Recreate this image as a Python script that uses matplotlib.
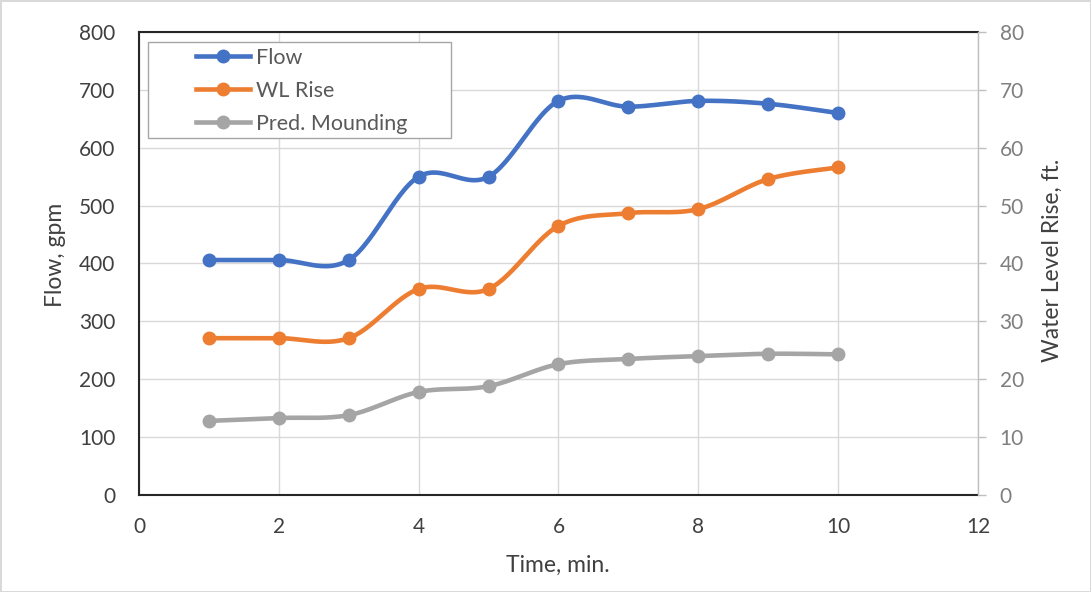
import numpy as np
import matplotlib
matplotlib.use("Agg")
import matplotlib.pyplot as plt
from matplotlib.lines import Line2D
from matplotlib.patches import Rectangle

plt.rcParams['font.family'] = ['Lato', 'DejaVu Sans']

# data
time_min = [1, 2, 3, 4, 5, 6, 7, 8, 9, 10]
flow_gpm = [406, 406, 406, 550, 550, 681, 671, 681, 676, 660]
wl_rise_ft = [27.1, 27.1, 27.1, 35.6, 35.6, 46.5, 48.7, 49.4, 54.6, 56.6]
pred_mound_ft = [12.8, 13.3, 13.8, 17.8, 18.8, 22.6, 23.5, 24.0, 24.4, 24.3]

x_ticks = [0, 2, 4, 6, 8, 10, 12]
left_ticks = [0, 100, 200, 300, 400, 500, 600, 700, 800]
right_ticks = [0, 10, 20, 30, 40, 50, 60, 70, 80]

C_FLOW = '#4472C4'
C_WL = '#ED7D31'
C_PRED = '#A5A5A5'
TXT = '#404040'


def smooth(xs, ys, n=30):
    # Excel-style smoothed line (bezier through points, catmull-rom controls)
    xs = np.asarray(xs, float)
    ys = np.asarray(ys, float)
    px, py = [], []
    for i in range(len(xs) - 1):
        p0 = np.array([xs[max(i - 1, 0)], ys[max(i - 1, 0)]])
        p1 = np.array([xs[i], ys[i]])
        p2 = np.array([xs[i + 1], ys[i + 1]])
        p3 = np.array([xs[min(i + 2, len(xs) - 1)], ys[min(i + 2, len(ys) - 1)]])
        c1 = p1 + (p2 - p0) / 6
        c2 = p2 - (p3 - p1) / 6
        t = np.linspace(0, 1, n)[:, None]
        pts = ((1 - t) ** 3) * p1 + 3 * ((1 - t) ** 2) * t * c1 + 3 * (1 - t) * t ** 2 * c2 + t ** 3 * p2
        px.extend(pts[:, 0])
        py.extend(pts[:, 1])
    return px, py


fig = plt.figure(figsize=(10.91, 5.92), dpi=100)
fig.patch.set_edgecolor('#d9d9d9')
fig.patch.set_linewidth(1)
ax = fig.add_axes([0.1274, 0.1639, 0.7690, 0.7820])
ax2 = ax.twinx()

lw = 3.3
ms = 9

sx, sy = smooth(time_min, flow_gpm)
ax.plot(sx, sy, color=C_FLOW, lw=lw, solid_capstyle='round', zorder=3)
ax.plot(time_min, flow_gpm, 'o', color=C_FLOW, ms=ms, zorder=4)

for vals, col in [(pred_mound_ft, C_PRED), (wl_rise_ft, C_WL)]:
    sx, sy = smooth(time_min, vals)
    ax2.plot(sx, sy, color=col, lw=lw, solid_capstyle='round', zorder=3)
    ax2.plot(time_min, vals, 'o', color=col, ms=ms, zorder=4)

ax.set_xlim(0, 12)
ax.set_ylim(0, 800)
ax2.set_ylim(0, 80)
ax.set_xticks(x_ticks)
ax.set_yticks(left_ticks)
ax2.set_yticks(right_ticks)

ax.grid(True, color='#d9d9d9', lw=1)
ax.set_axisbelow(True)

ax.spines['right'].set_visible(False)
for s in ['top', 'left', 'bottom']:
    ax.spines[s].set_color('#262626')
    ax.spines[s].set_linewidth(1.5)
for s in ['top', 'left', 'bottom']:
    ax2.spines[s].set_visible(False)
ax2.spines['right'].set_color('#bfbfbf')
ax2.spines['right'].set_linewidth(1)

ax.tick_params(axis='x', length=0, labelsize=15, colors=TXT, pad=16)
ax.tick_params(axis='y', length=0, labelsize=15, colors=TXT, pad=17)
ax2.tick_params(axis='y', length=5.5, width=1, color='#bfbfbf', labelsize=15,
                labelcolor='#7f7f7f', pad=10)

fig.text(558 / 1091, 1 - 565 / 592, 'Time, min.', fontsize=16.5, color=TXT,
         ha='center', va='center')
fig.text(56 / 1091, 1 - 255 / 592, 'Flow, gpm', fontsize=16.5, color=TXT,
         ha='center', va='center', rotation=90)
fig.text(1052 / 1091, 1 - 260 / 592, 'Water Level Rise, ft.', fontsize=16.5, color=TXT,
         ha='center', va='center', rotation=90)

# legend box and entries
fig.add_artist(Rectangle((148 / 1091, 1 - 138 / 592), 303 / 1091, 96 / 592,
                         transform=fig.transFigure, facecolor='white',
                         edgecolor='#a6a6a6', lw=1, zorder=4))
handles = [
    Line2D([], [], color=C_FLOW, lw=lw, marker='o', ms=ms),
    Line2D([], [], color=C_WL, lw=lw, marker='o', ms=ms),
    Line2D([], [], color=C_PRED, lw=lw, marker='o', ms=ms),
]
leg = fig.legend(handles, ['Flow', 'WL Rise', 'Pred. Mounding'], loc='upper left',
                 bbox_to_anchor=(196 / 1091, 1 - 48 / 592), bbox_transform=fig.transFigure,
                 fontsize=15.5, frameon=False, handlelength=2.5, handletextpad=0.3,
                 borderpad=0, labelspacing=0.6, borderaxespad=0, labelcolor='#595959')
leg.set_zorder(5)

fig.savefig('out.png', dpi=100)
